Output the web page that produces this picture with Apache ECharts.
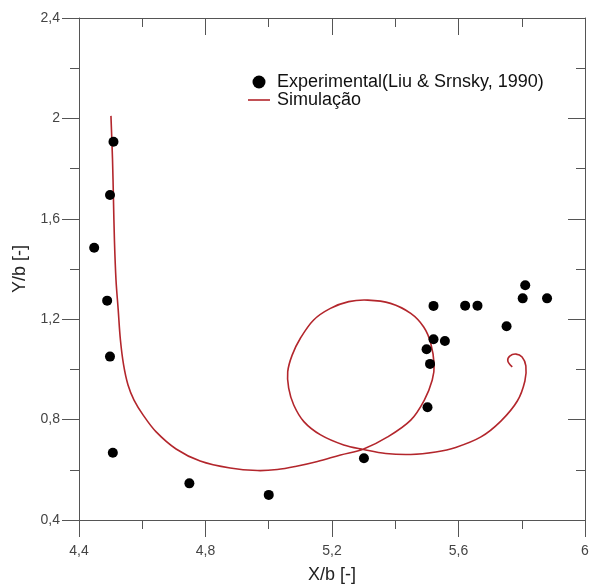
<!DOCTYPE html>
<html lang="pt">

<head>
  <meta charset="UTF-8">
  <title>Experimental x Simulação</title>
  <style>
    body { margin: 0; background: #fff; }
    #main { width: 589px; height: 584px; }
  </style>
</head>

<body>
  <div id="main"></div>
  <script src="https://cdn.jsdelivr.net/npm/echarts@6/dist/echarts.min.js"></script>
  <script>
    const myChart = echarts.init(document.getElementById('main'));

    // pontos experimentais (Liu & Srnsky, 1990)
    const expX = [4.509, 4.498, 4.448, 4.489, 4.498, 4.507, 4.749, 5.000, 5.301, 5.502, 5.510,
      5.499, 5.521, 5.557, 5.521, 5.621, 5.660, 5.752, 5.803, 5.811, 5.880];
    const expY = [1.907, 1.695, 1.485, 1.274, 1.051, 0.668, 0.546, 0.500, 0.646, 0.849, 1.022,
      1.080, 1.120, 1.113, 1.253, 1.254, 1.254, 1.172, 1.283, 1.335, 1.283];

    // curva da simulação (em ordem de percurso)
    const simX = [4.501, 4.506, 4.509, 4.512, 4.517, 4.524, 4.531, 4.541, 4.555, 4.574, 4.603,
      4.644, 4.707, 4.783, 4.878, 4.964, 5.027, 5.084, 5.154, 5.227, 5.300, 5.376, 5.449,
      5.492, 5.517, 5.523, 5.512, 5.490, 5.449, 5.385, 5.313, 5.253, 5.195, 5.142, 5.100,
      5.074, 5.060, 5.063, 5.079, 5.111, 5.164, 5.237, 5.300, 5.370, 5.449, 5.528, 5.591,
      5.671, 5.734, 5.786, 5.810, 5.813, 5.801, 5.782, 5.762, 5.756, 5.770];
    const simY = [2.010, 1.835, 1.676, 1.516, 1.356, 1.237, 1.117, 1.018, 0.938, 0.878, 0.818,
      0.751, 0.683, 0.635, 0.607, 0.597, 0.601, 0.613, 0.633, 0.659, 0.683, 0.731, 0.798,
      0.878, 0.958, 1.018, 1.105, 1.169, 1.223, 1.263, 1.276, 1.270, 1.243, 1.197, 1.124,
      1.057, 0.991, 0.925, 0.858, 0.792, 0.739, 0.699, 0.681, 0.665, 0.661, 0.671, 0.689,
      0.731, 0.794, 0.874, 0.954, 1.014, 1.049, 1.061, 1.053, 1.033, 1.010];

    const expData = expX.map((x, i) => [x, expY[i]]);
    const simData = simX.map((x, i) => [x, simY[i]]);

    const comma = v => String(+v.toFixed(1)).replace('.', ',');
    const font = 'Liberation Sans, Arial, sans-serif';
    const axisColor = '#555';
    const red = '#b3262c';

    const baseAxis = {
      type: 'value',
      interval: 0.4,
      splitLine: { show: false },
      axisLine: { onZero: false, lineStyle: { color: axisColor, width: 1 } },
      axisTick: { inside: false, length: 17, lineStyle: { color: axisColor } },
      minorTick: { show: true, splitNumber: 2, length: 9, lineStyle: { color: axisColor } },
      minorSplitLine: { show: false }
    };

    // a curva é desenhada inteira de uma vez (spline sem a restrição do line series)
    function renderCurve(params, api) {
      if (params.dataIndex !== 0) return null;
      const pts = simData.map(p => api.coord(p));
      return {
        type: 'polyline',
        shape: { points: pts, smooth: 0.35 },
        style: { stroke: red, lineWidth: 1.6, fill: null }
      };
    }

    const option = {
      animation: false,
      textStyle: { fontFamily: font },
      grid: { left: 79, right: 4, top: 18, bottom: 64, containLabel: false, outerBoundsMode: 'none' },
      legend: {
        orient: 'vertical',
        left: 243,
        top: 68,
        itemWidth: 22,
        itemHeight: 13,
        itemGap: 0,
        symbolKeepAspect: true,
        textStyle: { fontSize: 18, lineHeight: 18, color: '#111', fontFamily: font, padding: [0, 0, 0, 2] },
        data: [
          { name: 'Experimental(Liu & Srnsky, 1990)', icon: 'circle', itemStyle: { color: '#000', opacity: 1 } },
          { name: 'Simulação', icon: 'path://M0,0L22,0L22,1.6L0,1.6Z', itemStyle: { color: red } }
        ]
      },
      xAxis: [
        Object.assign({}, baseAxis, {
          min: 4.4, max: 6, position: 'bottom',
          name: 'X/b [-]', nameLocation: 'middle', nameGap: 46,
          nameTextStyle: { fontSize: 18, color: '#222', fontFamily: font },
          axisLabel: { margin: 24, fontSize: 14, color: '#444', formatter: comma }
        }),
        Object.assign({}, baseAxis, {
          min: 4.4, max: 6, position: 'top',
          axisTick: { inside: true, length: 17, lineStyle: { color: axisColor } },
          minorTick: { show: true, splitNumber: 2, length: 9, lineStyle: { color: axisColor } },
          axisLabel: { show: false }
        })
      ],
      yAxis: [
        Object.assign({}, baseAxis, {
          min: 0.4, max: 2.4, position: 'left',
          name: 'Y/b [-]', nameLocation: 'middle', nameGap: 50,
          nameTextStyle: { fontSize: 18, color: '#222', fontFamily: font },
          axisLabel: { margin: 19, fontSize: 14, color: '#444', formatter: comma }
        }),
        Object.assign({}, baseAxis, {
          min: 0.4, max: 2.4, position: 'right',
          axisTick: { inside: true, length: 17, lineStyle: { color: axisColor } },
          minorTick: { show: true, splitNumber: 2, length: 9, lineStyle: { color: axisColor } },
          axisLabel: { show: false }
        })
      ],
      series: [
        {
          name: 'Experimental(Liu & Srnsky, 1990)',
          type: 'scatter',
          data: expData,
          symbol: 'circle',
          symbolSize: 10,
          itemStyle: { color: '#000', opacity: 1 },
          z: 3
        },
        {
          name: 'Simulação',
          type: 'custom',
          data: simData,
          encode: { x: 0, y: 1 },
          renderItem: renderCurve,
          itemStyle: { color: red },
          z: 2
        }
      ]
    };

    myChart.setOption(option);
  </script>
</body>

</html>
